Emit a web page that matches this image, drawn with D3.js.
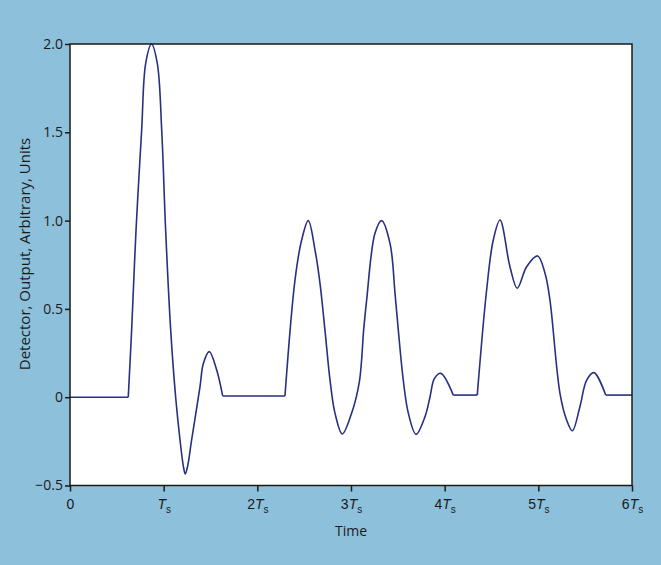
<!DOCTYPE html>
<html><head><meta charset="utf-8">
<script src="https://cdn.jsdelivr.net/npm/d3@7"></script>
<style>
html,body{margin:0;padding:0;background:#8dc0db;}
svg{display:block;font-family:"Open Sans","Noto Sans",sans-serif;}
</style></head>
<body>
<svg id="chart" width="661" height="565"></svg>
<script>
// Data (time in units of Ts, output in arbitrary units)
const pulse1T = [0.622, 0.658, 0.705, 0.765, 0.808, 0.870, 0.932, 0.979, 1.021, 1.075, 1.128, 1.174, 1.210, 1.230, 1.256, 1.299, 1.388, 1.423, 1.487, 1.566, 1.630];
const pulse1V = [0, 0.38, 0.947, 1.513, 1.89, 2.0, 1.89, 1.513, 0.947, 0.38, 0, -0.24, -0.39, -0.435, -0.39, -0.24, 0.06, 0.19, 0.258, 0.154, 0.007];
const pulse2T = [2.295, 2.402, 2.473, 2.544, 2.616, 2.669, 2.722, 2.776, 2.829, 2.907, 3.007, 3.09, 3.135, 3.167, 3.256, 3.327, 3.417, 3.470, 3.505, 3.558, 3.612, 3.694, 3.790, 3.843, 3.890, 3.958, 4.092];
const pulse2V = [0.007, 0.663, 0.89, 1.0, 0.833, 0.645, 0.38, 0.097, -0.09, -0.208, -0.09, 0.09, 0.38, 0.55, 0.928, 1.0, 0.87, 0.588, 0.38, 0.097, -0.09, -0.21, -0.11, 0, 0.105, 0.135, 0.012];
const pulse3T = [4.348, 4.448, 4.519, 4.591, 4.697, 4.775, 4.875, 4.993, 5.072, 5.124, 5.231, 5.302, 5.363, 5.444, 5.516, 5.594, 5.719];
const pulse3V = [0.012, 0.607, 0.89, 1.003, 0.739, 0.617, 0.739, 0.80, 0.70, 0.55, 0.022, -0.129, -0.19, -0.054, 0.097, 0.139, 0.012];
const baseStartT = 0, baseEndT = 6;
const yTicks = [-0.5, 0, 0.5, 1.0, 1.5, 2.0];
const yTickLabels = ["\u22120.5", "0", "0.5", "1.0", "1.5", "2.0"];
const xTicks = [0, 1, 2, 3, 4, 5, 6];
const xTickPrefix = ["0", "", "2", "3", "4", "5", "6"];

const svg = d3.select("#chart");
const m = {left: 70, right: 632, top: 44, bottom: 485.5};
const x = d3.scaleLinear().domain([0, 6]).range([m.left, m.right]);
const y = d3.scaleLinear().domain([-0.5, 2.0]).range([m.bottom, m.top]);
const ink = "#1a1a1a";
const lineColor = "#26317f";

svg.append("rect").attr("x", m.left).attr("y", m.top)
  .attr("width", m.right - m.left).attr("height", m.bottom - m.top)
  .attr("fill", "#fff");

const zip = (T, V) => T.map((t, i) => [t, V[i]]);
const p1 = zip(pulse1T, pulse1V), p2 = zip(pulse2T, pulse2V), p3 = zip(pulse3T, pulse3V);
const flats = [
  [[baseStartT, 0], [pulse1T[0], pulse1V[0]]],
  [p1[p1.length-1], p2[0]],
  [p2[p2.length-1], p3[0]],
  [p3[p3.length-1], [baseEndT, p3[p3.length-1][1]]]
];
const smooth = d3.line().x(d => x(d[0])).y(d => y(d[1])).curve(d3.curveCatmullRom.alpha(0.5));
const straight = d3.line().x(d => x(d[0])).y(d => y(d[1]));

const g = svg.append("g");
[p1, p2, p3].forEach(p => g.append("path").attr("d", smooth(p))
  .attr("fill", "none").attr("stroke", lineColor).attr("stroke-width", 1.6).attr("stroke-linejoin", "round"));
flats.forEach(f => g.append("path").attr("d", straight(f))
  .attr("fill", "none").attr("stroke", lineColor).attr("stroke-width", 1.6));

// frame
svg.append("rect").attr("x", m.left).attr("y", m.top)
  .attr("width", m.right - m.left).attr("height", m.bottom - m.top)
  .attr("fill", "none").attr("stroke", ink).attr("stroke-width", 1.5);

// y axis
const yAxis = d3.axisLeft(y).tickValues(yTicks).tickSize(5).tickPadding(2)
  .tickFormat((d, i) => yTickLabels[i]);
const ya = svg.append("g").attr("transform", `translate(${m.left},0)`).call(yAxis);
ya.select(".domain").remove();
ya.selectAll(".tick line").attr("stroke", ink).attr("stroke-width", 1.5);
ya.selectAll(".tick text").attr("fill", ink).attr("font-size", 14)
  .attr("font-family", "'Open Sans','Noto Sans',sans-serif");

// x axis
const xAxis = d3.axisBottom(x).tickValues(xTicks).tickSize(6).tickFormat("");
const xa = svg.append("g").attr("transform", `translate(0,${m.bottom})`).call(xAxis);
xa.select(".domain").remove();
xa.selectAll(".tick line").attr("stroke", ink).attr("stroke-width", 1.5);
xa.selectAll(".tick").each(function(d, i) {
  const t = d3.select(this).append("text").attr("y", 23).attr("text-anchor", "middle")
    .attr("fill", ink).attr("font-size", 14);
  if (d === 0) { t.text("0"); return; }
  t.append("tspan").text(xTickPrefix[i]);
  t.append("tspan").attr("font-style", "italic").text("T");
  t.append("tspan").attr("font-size", 10).attr("dy", 4).text("s");
});

// titles
svg.append("text").attr("x", (m.left + m.right) / 2).attr("y", 536)
  .attr("text-anchor", "middle").attr("font-size", 14).attr("fill", ink).text("Time");
svg.append("text").attr("transform", `translate(30,254) rotate(-90)`)
  .attr("text-anchor", "middle").attr("font-size", 15).attr("fill", ink)
  .text("Detector, Output, Arbitrary, Units");
</script>
</body></html>
